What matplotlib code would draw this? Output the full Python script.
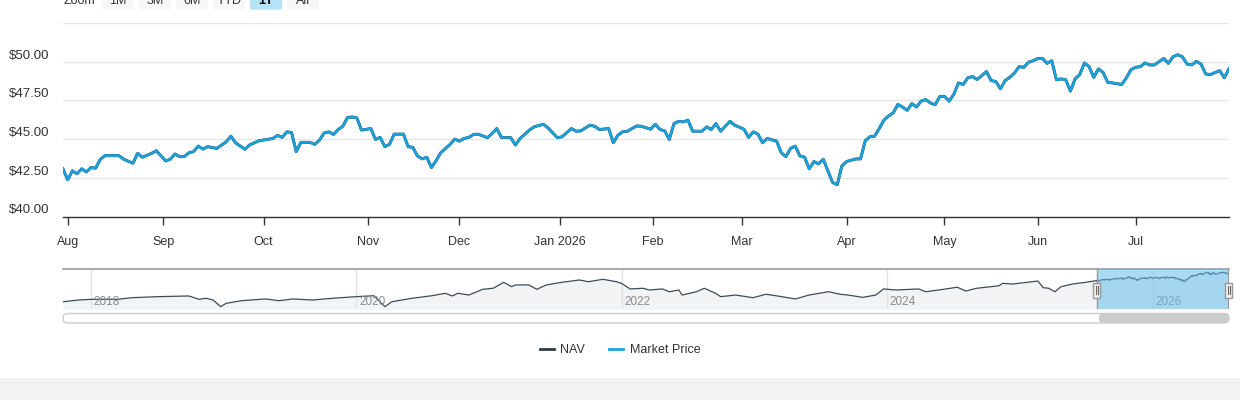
import numpy as np
import matplotlib
matplotlib.use("Agg")
import matplotlib.pyplot as plt
import matplotlib.dates as mdates
from matplotlib.patches import FancyBboxPatch, Rectangle
from matplotlib.lines import Line2D

plt.rcParams['font.family'] = ['Liberation Sans', 'DejaVu Sans']

# trading calendar used for the 1Y window (ordinal x axis like a stock chart)
START = '2025-07-31'
HOLIDAYS = ['2025-09-01', '2025-11-27', '2025-12-25', '2026-01-01', '2026-01-19',
            '2026-02-16', '2026-04-03', '2026-05-25', '2026-06-19', '2026-07-03']

# trading session number (0 = START) and closing market price
session = [0, 1, 2, 3, 4, 5, 6, 7, 8, 9, 12, 13, 15, 16, 17, 19, 20, 22, 23, 24,
           25, 26, 27, 28, 29, 30, 31, 33, 35, 36, 37, 39, 40, 42, 45, 46, 47, 48, 49, 50,
           51, 53, 54, 55, 56, 57, 58, 59, 60, 61, 62, 63, 64, 66, 67, 68, 69, 70, 71, 73,
           74, 75, 76, 77, 78, 79, 80, 81, 83, 84, 85, 86, 87, 88, 89, 91, 92, 93, 94, 96,
           97, 98, 100, 101, 103, 104, 106, 107, 109, 110, 111, 113, 114, 115, 117, 118, 119, 120, 121, 123,
           124, 126, 127, 128, 129, 130, 131, 132, 133, 134, 135, 137, 138, 139, 140, 141, 143, 144, 146, 147,
           148, 149, 150, 151, 153, 154, 155, 156, 157, 158, 159, 160, 161, 162, 163, 165, 166, 167, 168, 170,
           171, 172, 173, 174, 175, 176, 177, 178, 179, 180, 181, 182, 183, 184, 185, 186, 187, 188, 189, 190,
           191, 192, 193, 194, 195, 196, 198, 199, 200, 201, 202, 203, 204, 205, 206, 207, 208, 209, 210, 211,
           212, 213, 214, 215, 216, 217, 218, 219, 220, 221, 222, 223, 224, 225, 227, 228, 229, 230, 231, 232,
           233, 234, 236, 237, 238, 239, 240, 241, 242, 243, 244, 245, 246, 248, 249, 250]
market_price = [43.08, 42.37, 42.95, 42.76, 43.08, 42.88, 43.16, 43.12, 43.70, 43.93, 43.93, 43.70, 43.44, 44.08, 43.83, 44.08, 44.25, 43.59, 43.70, 44.04,
                43.87, 43.87, 44.12, 44.19, 44.55, 44.36, 44.51, 44.40, 44.83, 45.19, 44.76, 44.34, 44.62, 44.89, 45.04, 45.24, 45.11, 45.47, 45.43, 44.19,
                44.79, 44.79, 44.66, 44.94, 45.40, 45.47, 45.30, 45.62, 45.83, 46.39, 46.43, 46.37, 45.58, 45.68, 44.98, 45.11, 44.51, 44.66, 45.32, 45.32,
                44.51, 44.47, 43.91, 43.72, 43.83, 43.16, 43.61, 44.12, 44.66, 45.00, 44.87, 45.04, 45.11, 45.30, 45.32, 45.09, 45.36, 45.68, 45.11, 45.09,
                44.62, 45.04, 45.58, 45.79, 45.96, 45.72, 45.09, 45.15, 45.68, 45.51, 45.53, 45.90, 45.83, 45.62, 45.68, 44.76, 45.26, 45.47, 45.51, 45.85,
                45.83, 45.64, 45.96, 45.62, 45.53, 44.98, 46.00, 46.15, 46.11, 46.22, 45.51, 45.51, 45.79, 45.62, 46.00, 45.51, 46.15, 45.90, 45.64, 45.11,
                45.47, 45.32, 44.76, 45.04, 44.87, 44.12, 43.87, 44.40, 44.55, 43.91, 43.83, 43.08, 43.55, 43.40, 43.70, 42.20, 42.05, 43.27, 43.55, 43.72,
                43.72, 44.89, 45.15, 45.19, 45.68, 46.22, 46.49, 46.69, 47.24, 47.07, 46.86, 47.29, 47.07, 47.46, 47.55, 47.33, 47.22, 47.76, 47.76, 47.45,
                47.90, 48.63, 48.53, 48.96, 49.04, 48.85, 49.36, 48.78, 48.72, 48.25, 48.78, 48.99, 49.27, 49.68, 49.64, 49.96, 50.06, 50.21, 50.21, 49.89,
                50.06, 48.83, 48.89, 48.83, 48.10, 48.89, 49.17, 49.92, 49.68, 48.99, 49.53, 49.31, 48.67, 48.63, 48.53, 48.96, 49.49, 49.64, 49.68, 49.92,
                49.79, 49.79, 50.21, 49.89, 50.32, 50.45, 50.32, 49.85, 49.79, 50.02, 49.85, 49.21, 49.17, 49.42, 48.96, 49.55]
# NAV tracks the market price so closely that the two lines overlap
nav = list(market_price)

# longer NAV history shown in the navigator
hist_dates = ['2017-10-16', '2017-11-28', '2018-01-04', '2018-03-16', '2018-04-23', '2018-07-05', '2018-09-27',
              '2018-10-26', '2018-11-14', '2018-12-03', '2018-12-24', '2019-01-08', '2019-02-20', '2019-04-26',
              '2019-06-03', '2019-07-10', '2019-09-03', '2019-10-28', '2020-01-01', '2020-02-19', '2020-03-20',
              '2020-04-08', '2020-06-03', '2020-07-27', '2020-09-02', '2020-09-22', '2020-10-06', '2020-10-20',
              '2020-11-06', '2020-12-14', '2021-01-12', '2021-02-10', '2021-03-03', '2021-03-15', '2021-04-20',
              '2021-05-12', '2021-06-07', '2021-07-20', '2021-09-06', '2021-10-01', '2021-11-10', '2021-12-17',
              '2021-12-31', '2022-01-24', '2022-02-28', '2022-03-18', '2022-04-22', '2022-05-12', '2022-06-07',
              '2022-06-16', '2022-07-25', '2022-08-16', '2022-09-16', '2022-09-30', '2022-11-10', '2022-12-28',
              '2023-02-02', '2023-03-17', '2023-04-24', '2023-05-31', '2023-07-24', '2023-08-25', '2023-09-15',
              '2023-10-26', '2023-12-01', '2023-12-22', '2024-01-26', '2024-03-28', '2024-04-16', '2024-05-22',
              '2024-07-12', '2024-08-05', '2024-09-03', '2024-09-30', '2024-11-04', '2024-11-14', '2024-12-12',
              '2025-01-20', '2025-02-19', '2025-03-06', '2025-03-21', '2025-04-07', '2025-04-24', '2025-05-26',
              '2025-07-01']
hist_nav = [24.7, 26.2, 26.8, 26.8, 28.2, 29.1, 29.7,
            26.8, 27.7, 26.2, 20.4, 23.3, 25.6, 27.1,
            25.6, 27.1, 26.2, 27.7, 29.1, 29.9, 20.4,
            24.7, 27.7, 29.9, 32.0, 29.7, 32.0, 31.4,
            30.5, 35.5, 36.4, 41.6, 37.8, 39.3, 39.3,
            35.5, 39.3, 41.6, 43.6, 42.1, 44.2, 42.1,
            40.7, 35.8, 36.4, 34.9, 35.8, 33.4, 34.9,
            30.5, 33.4, 36.4, 32.0, 29.1, 30.5, 28.2,
            31.2, 29.1, 27.1, 30.5, 33.4, 31.2, 30.5,
            28.5, 30.5, 35.8, 34.9, 35.8, 33.4, 34.9,
            37.3, 34.0, 36.4, 37.3, 38.6, 40.7, 40.1,
            41.6, 42.7, 36.9, 36.4, 33.4, 37.8, 40.1,
            41.6]

month_starts = ['2025-08-01', '2025-09-01', '2025-10-01', '2025-11-01', '2025-12-01', '2026-01-01',
                '2026-02-01', '2026-03-01', '2026-04-01', '2026-05-01', '2026-06-01', '2026-07-01']
month_labels = ['Aug', 'Sep', 'Oct', 'Nov', 'Dec', 'Jan 2026', 'Feb', 'Mar', 'Apr', 'May', 'Jun', 'Jul']
price_ticks = [40, 42.5, 45, 47.5, 50, 52.5]
year_starts = ['2018-01-01', '2020-01-01', '2022-01-01', '2024-01-01', '2026-01-01']
zoom_buttons = ['1M', '3M', '6M', 'YTD', '1Y', 'All']
selected_button = '1Y'

NAV_COLOR = '#2d3b48'
PRICE_COLOR = '#18a3de'
TEXT = '#333333'

dates_1y = np.busday_offset(START, session, holidays=HOLIDAYS)
ms = np.array(month_starts, dtype='datetime64[D]')
month_pos = np.busday_count(START, ms, holidays=HOLIDAYS) - 0.5 * (~np.is_busday(ms, holidays=HOLIDAYS))

fig = plt.figure(figsize=(12.4, 4), dpi=100)
W, H = 1240, 400

# ---- main chart
ax = fig.add_axes([63 / W, (H - 216.5) / H, 1166 / W, 193.5 / H])
ax.plot(session, nav, color=NAV_COLOR, lw=2.1, solid_joinstyle='round', zorder=3)
ax.plot(session, market_price, color=PRICE_COLOR, lw=1.8, solid_joinstyle='round', zorder=4)
ax.set_xlim(0, 250)
ax.set_ylim(40, 52.5)
ax.set_yticks(price_ticks)
ax.set_yticklabels([f'${v:.2f}' for v in price_ticks[:-1]] + [''])
for lab in ax.get_yticklabels():
    lab.set_verticalalignment('bottom')
ax.set_xticks(month_pos)
ax.set_xticklabels(month_labels)
ax.grid(axis='y', color='#e6e6e6', lw=1)
ax.set_axisbelow(True)
for s in ['top', 'right', 'left']:
    ax.spines[s].set_visible(False)
ax.spines['bottom'].set_color(TEXT)
ax.spines['bottom'].set_linewidth(1)
ax.tick_params(axis='y', length=0, pad=10, labelsize=9.5, labelcolor=TEXT)
ax.tick_params(axis='x', length=6, width=1, color=TEXT, pad=8, labelsize=9, labelcolor=TEXT)

# ---- navigator
nx = fig.add_axes([63 / W, (H - 309.3) / H, 1166 / W, 40 / H])
nav_dates = np.concatenate([np.array(hist_dates, dtype='datetime64[D]'), dates_1y])
nav_vals = np.array(hist_nav + nav)
nx.fill_between(nav_dates, nav_vals, 18.1, color='#f2f3f5', lw=0, zorder=1)
nx.plot(nav_dates, nav_vals, color='#3d4b58', lw=0.9, zorder=2)
nx.set_xlim(nav_dates[0], nav_dates[-1])
nx.set_ylim(18.1, 52.9)
ys = np.array(year_starts, dtype='datetime64[D]')
for d in ys:
    nx.axvline(d, color='#e3e3e3', lw=1, zorder=1.5)
    nx.annotate(str(d.astype(object).year), xy=(d, 0.19), xycoords=nx.get_xaxis_transform(),
                xytext=(2, 0), textcoords='offset points', va='center', ha='left',
                fontsize=8.5, color='#8c8c8c', zorder=2)
nx.axvspan(dates_1y[0], nav_dates[-1], color=(0.40, 0.75, 0.92), alpha=0.55, lw=0, zorder=3)
nx.axvline(dates_1y[0], color='#999999', lw=1, zorder=4)
nx.axvline(nav_dates[-1], color='#999999', lw=1.5, zorder=4)
nx.set_xticks([])
nx.set_yticks([])
for s in ['right', 'left', 'bottom']:
    nx.spines[s].set_visible(False)
nx.spines['top'].set_color('#999999')
nx.spines['top'].set_linewidth(1.2)

# ---- overlay in pixel coordinates for the Highcharts chrome
ov = fig.add_axes([0, 0, 1, 1], zorder=5)
ov.set_xlim(0, W)
ov.set_ylim(H, 0)
ov.axis('off')
ov.patch.set_alpha(0)

ov.add_patch(Rectangle((0, 378), W, 22, color='#f2f2f2', lw=0))

ov.text(64, 4.5, 'Zoom', fontsize=9, color=TEXT, va='baseline', ha='left')
for i, lab in enumerate(zoom_buttons):
    x0 = 102 + i * 37
    sel = lab == selected_button
    ov.add_patch(FancyBboxPatch((x0, -10), 32, 19.7, boxstyle='round,pad=0,rounding_size=2',
                                fc='#b5e4f8' if sel else '#f7f7f7', ec='none'))
    ov.text(x0 + 16, 4.5, lab, fontsize=9, color='#000000' if sel else TEXT,
            fontweight='bold' if sel else 'normal', va='baseline', ha='center')

# navigator handles
fig.canvas.draw()
hx = [nx.transData.transform((mdates.date2num(d), 0))[0] for d in (dates_1y[0], nav_dates[-1])]
for x in hx:
    ov.add_patch(Rectangle((x - 3.5, 282.5), 7, 15, fc='#f2f2f2', ec='#999999', lw=1))
    for dx in (-1.2, 1.2):
        ov.plot([x + dx, x + dx], [286, 294], color='#666666', lw=0.8)

# scrollbar
ov.add_patch(FancyBboxPatch((63, 313.5), 1166, 9.5, boxstyle='round,pad=0,rounding_size=4.7',
                            fc='white', ec='#cccccc', lw=1))
ov.add_patch(FancyBboxPatch((hx[0] + 2, 313.5), hx[1] - hx[0] - 2, 9.5,
                            boxstyle='round,pad=0,rounding_size=4.7', fc='#cccccc', ec='none'))

fig.legend(handles=[Line2D([], [], color=NAV_COLOR, lw=2), Line2D([], [], color=PRICE_COLOR, lw=2)],
           labels=['NAV', 'Market Price'], loc='center', bbox_to_anchor=(0.5, 1 - 350 / H),
           ncol=2, frameon=False, fontsize=9, handlelength=1.15, handletextpad=0.5,
           columnspacing=1.9, labelcolor=TEXT)

fig.savefig('out.png', dpi=100)
